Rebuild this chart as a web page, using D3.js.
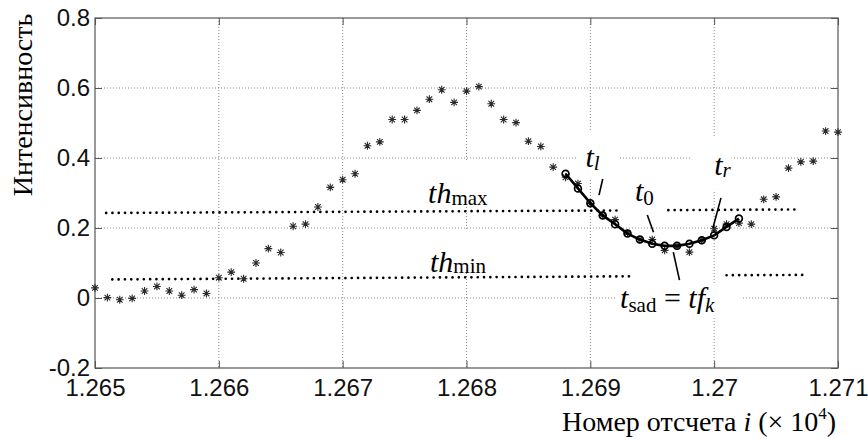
<!DOCTYPE html>
<html>
<head>
<meta charset="utf-8">
<script src="https://d3js.org/d3.v7.min.js"></script>
<style>
    body { margin: 0; background: #fff; }
    svg { display: block; }
</style>
</head>
<body>
<div id="chart"></div>
<script>
// 0.data
// sample numbers, real value = sample / 1e4
var firstSample = 12650;
var intensity = [
    0.029, 0.001, -0.005, -0.001, 0.020, 0.033, 0.020, 0.008, 0.024, 0.013,
    0.058, 0.074, 0.055, 0.100, 0.141, 0.130, 0.205, 0.211, 0.260, 0.316,
    0.338, 0.355, 0.435, 0.446, 0.510, 0.510, 0.536, 0.568, 0.595, 0.559,
    0.591, 0.604, 0.555, 0.510, 0.501, 0.448, 0.433, 0.374, 0.345, 0.327,
    0.270, 0.236, 0.224, 0.186, 0.167, 0.167, 0.136, 0.148, 0.131, 0.165,
    0.198, 0.211, 0.214, 0.211, 0.282, 0.289, 0.371, 0.389, 0.391, 0.477, 0.474
];
// fitted curve around the saddle
var fitStart = 12688;
var fitValues = [0.355, 0.313, 0.271, 0.236, 0.211, 0.184, 0.167, 0.155, 0.149, 0.149,
                 0.155, 0.165, 0.179, 0.203, 0.227];
// threshold segments [sample, value]
var thMax = [[[12650.9, 0.243], [12692.2, 0.250]], [[12696.3, 0.251], [12706.9, 0.253]]];
var thMin = [[[12651.4, 0.053], [12693.4, 0.062]], [[12701.0, 0.065], [12707.5, 0.066]]];

var xTicks = [12650, 12660, 12670, 12680, 12690, 12700, 12710];
var yTicks = [-0.2, 0, 0.2, 0.4, 0.6, 0.8];
var yTickLabels = ["-0.2", "0", "0.2", "0.4", "0.6", "0.8"];

// 0.1.size
var svgW = 868, svgH = 439;
var plot = {left: 95, right: 838, top: 18, bottom: 368};
var tickLen = 7;

var x = d3.scaleLinear().domain([12650, 12710]).range([plot.left, plot.right]);
var y = d3.scaleLinear().domain([-0.2, 0.8]).range([plot.bottom, plot.top]);

var svg = d3.select("#chart").append("svg").attr("width", svgW).attr("height", svgH);

// 1.grid
var grid = svg.append("g").attr("stroke", "#8a8a8a").attr("stroke-width", 1)
    .attr("stroke-dasharray", "1,2");
grid.selectAll(".gx").data(xTicks.slice(1, -1)).enter().append("line")
    .attr("x1", function(d){ return x(d); }).attr("x2", function(d){ return x(d); })
    .attr("y1", plot.top).attr("y2", plot.bottom);
grid.selectAll(".gy").data(yTicks.slice(1, -1)).enter().append("line")
    .attr("x1", plot.left).attr("x2", plot.right)
    .attr("y1", function(d){ return y(d); }).attr("y2", function(d){ return y(d); });

// white boxes behind the labels (they cut the grid like in the original)
var boxes = [
    [12689.0, 12692.24, 0.48, 0.337],   // t_l
    [12698.18, 12701.41, 0.46, 0.309],  // t_r
    [12692.24, 12696.27, 0.343, 0.24],  // t_0
    [12676.2, 12682.3, 0.389, 0.26],    // th_max
    [12676.4, 12682.3, 0.191, 0.08],    // th_min
    [12692.0, 12702.3, 0.043, -0.051]   // t_sad
];
svg.append("g").selectAll("rect").data(boxes).enter().append("rect")
    .attr("x", function(d){ return x(d[0]); })
    .attr("width", function(d){ return x(d[1]) - x(d[0]); })
    .attr("y", function(d){ return y(d[2]); })
    .attr("height", function(d){ return y(d[3]) - y(d[2]); })
    .attr("fill", "#fff");

// 2.axes (MATLAB style box, ticks inside)
var axisColor = "#555";
var xAxis = d3.axisBottom(x).tickValues(xTicks).tickSizeInner(-tickLen).tickSizeOuter(0)
    .tickPadding(11).tickFormat(function(d){ return String(d / 1e4); });
var yAxis = d3.axisLeft(y).tickValues(yTicks).tickSizeInner(-tickLen).tickSizeOuter(0)
    .tickPadding(5).tickFormat(function(d, i){ return yTickLabels[i]; });

var gx = svg.append("g").attr("transform", "translate(0," + plot.bottom + ")").call(xAxis);
var gy = svg.append("g").attr("transform", "translate(" + plot.left + ",0)").call(yAxis);
svg.append("g").attr("transform", "translate(0," + plot.top + ")")
    .call(d3.axisTop(x).tickValues(xTicks).tickSizeInner(-tickLen).tickSizeOuter(0).tickFormat(""));
svg.append("g").attr("transform", "translate(" + plot.right + ",0)")
    .call(d3.axisRight(y).tickValues(yTicks).tickSizeInner(-tickLen).tickSizeOuter(0).tickFormat(""));

svg.selectAll(".domain").remove();
svg.selectAll(".tick line").attr("stroke", axisColor);
svg.selectAll(".tick text").attr("font-family", "'Liberation Sans', Arial, sans-serif")
    .attr("font-size", 24).attr("fill", "#111");

svg.append("rect").attr("x", plot.left).attr("y", plot.top)
    .attr("width", plot.right - plot.left).attr("height", plot.bottom - plot.top)
    .attr("fill", "none").attr("stroke", axisColor).attr("stroke-width", 1.2);

// 3.thresholds (heavy dotted)
var line = d3.line().x(function(d){ return x(d[0]); }).y(function(d){ return y(d[1]); });
svg.append("g").selectAll("path").data(thMax.concat(thMin)).enter().append("path")
    .attr("d", line).attr("fill", "none").attr("stroke", "#000")
    .attr("stroke-width", 2.7).attr("stroke-linecap", "round").attr("stroke-dasharray", "0,6.3");

// 4.samples as asterisks
var r = 3.9, dd = 2.8;
var star = "M" + (-r) + ",0L" + r + ",0M0," + (-r) + "L0," + r +
    "M" + (-dd) + "," + (-dd) + "L" + dd + "," + dd + "M" + (-dd) + "," + dd + "L" + dd + "," + (-dd);
svg.append("g").selectAll("path").data(intensity).enter().append("path")
    .attr("transform", function(d, i){ return "translate(" + x(firstSample + i) + "," + y(d) + ")"; })
    .attr("d", star).attr("stroke", "#2a2a2a").attr("stroke-width", 1.1).attr("fill", "none");

// 5.fit curve with circles
var fit = fitValues.map(function(v, i){ return [fitStart + i, v]; });
svg.append("path").datum(fit).attr("d", line).attr("fill", "none")
    .attr("stroke", "#000").attr("stroke-width", 2.6);
svg.append("g").selectAll("circle").data(fit).enter().append("circle")
    .attr("cx", function(d){ return x(d[0]); }).attr("cy", function(d){ return y(d[1]); })
    .attr("r", 3.4).attr("fill", "none").attr("stroke", "#000").attr("stroke-width", 1.7);

// 6.annotations
var serif = "'Liberation Serif', 'Times New Roman', serif";
function label(px, py, main, sub, subItalic, subDy) {
    var t = svg.append("text").attr("x", x(px)).attr("y", y(py))
        .attr("font-family", serif).attr("font-size", 30).attr("fill", "#000");
    t.append("tspan").attr("font-style", "italic").text(main);
    t.append("tspan").attr("font-size", 21).attr("dy", subDy)
        .attr("font-style", subItalic ? "italic" : "normal").text(sub);
    return t;
}
label(12676.9, 0.271, "th", "max", false, 2);
label(12677.05, 0.074, "th", "min", false, 1);
label(12689.6, 0.374, "t", "l", true, 3);
label(12693.6, 0.278, "t", "0", false, 4);
label(12700.0, 0.351, "t", "r", true, 2);
var ts = label(12692.4, -0.029, "t", "sad", false, 4);
ts.append("tspan").attr("dy", -4).text(" = ");
ts.append("tspan").attr("font-style", "italic").text("tf");
ts.append("tspan").attr("font-style", "italic").attr("font-size", 21).attr("dy", 4).text("k");

var pointers = [
    [[12691.0, 0.340], [12690.7, 0.294]],
    [[12694.6, 0.237], [12695.1, 0.188]],
    [[12700.55, 0.286], [12699.9, 0.200]],
    [[12696.7, 0.131], [12697.2, 0.051]]
];
svg.append("g").selectAll("path").data(pointers).enter().append("path")
    .attr("d", line).attr("stroke", "#000").attr("stroke-width", 1.6);

// 7.axis titles
svg.append("text").attr("transform", "translate(32,105) rotate(-90)")
    .attr("text-anchor", "middle").attr("font-family", serif).attr("font-size", 28)
    .text("Интенсивность");

var xt = svg.append("text").attr("x", 562).attr("y", 431)
    .attr("font-family", serif).attr("font-size", 28);
xt.append("tspan").text("Номер отсчета ");
xt.append("tspan").attr("font-style", "italic").text("i");
xt.append("tspan").text(" (× 10");
xt.append("tspan").attr("font-size", 17).attr("dy", -12).text("4");
xt.append("tspan").attr("dy", 12).text(")");
</script>
</body>
</html>
